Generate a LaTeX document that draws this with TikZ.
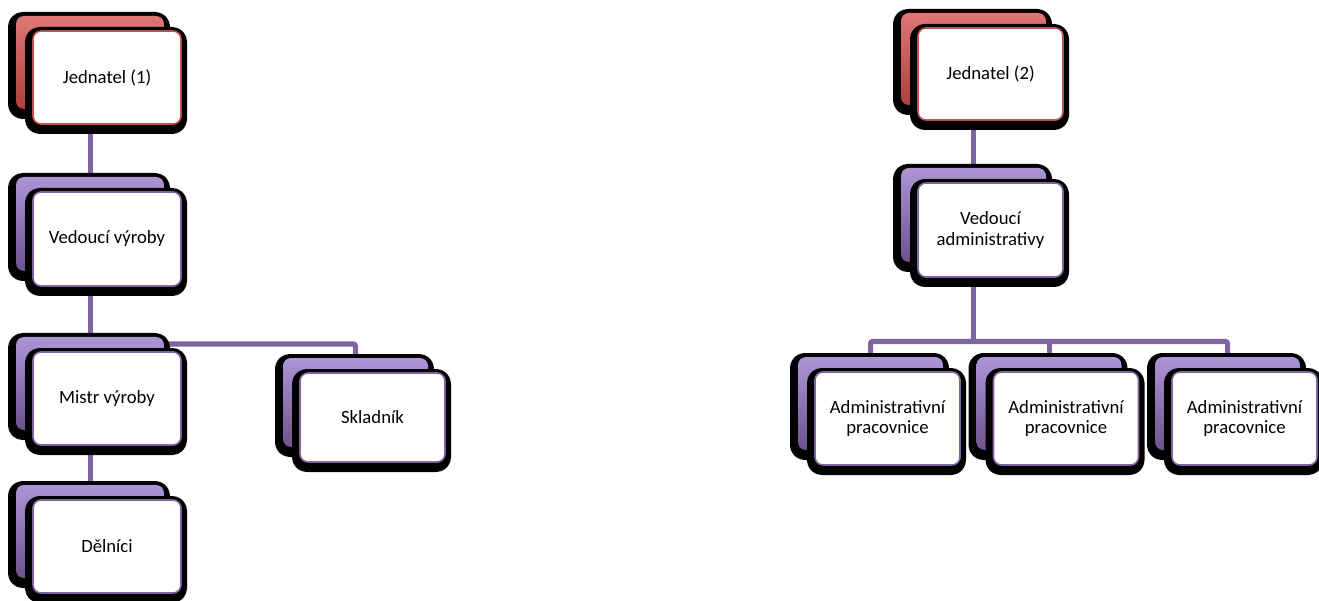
\documentclass[tikz,border=0pt]{standalone}
\usepackage{fontspec}
\setmainfont{Carlito}
\usetikzlibrary{backgrounds}
\definecolor{purpleM}{HTML}{8064A2}
\definecolor{purpleL}{HTML}{AD95D6}
\definecolor{purpleD}{HTML}{6E528F}
\definecolor{redM}{HTML}{C0504D}
\definecolor{redL}{HTML}{DE7774}
\definecolor{redD}{HTML}{AE403D}
\tikzset{
  boxbase/.style={rectangle, rounded corners=8pt, inner sep=0pt, align=center,
    font=\fontsize{18.7}{20.5}\selectfont},
  shadowed/.style={preaction={fill=black, draw=black, line width=14pt, line join=round,
    transform canvas={xshift=-1pt, yshift=-3pt}}},
  frontbox/.style={boxbase, shadowed, fill=white, draw=#1M, line width=1.6pt},
  backbox/.style={boxbase, shadowed, draw=none, top color=#1L, middle color=#1M, bottom color=#1D},
  conn/.style={draw=purpleM, line width=5pt, rounded corners=2pt},
}
\newcommand\orgunit[7]{%
  \node[backbox=#6, minimum width=#4pt, minimum height=#5pt] (#1b) at ({#2-17},{#3-15}) {};
  \node[frontbox=#6, minimum width=#4pt, minimum height=#5pt] (#1) at (#2,#3) {#7};
}
\begin{document}
\begin{tikzpicture}[x=1pt, y=-1pt]
\useasboundingbox (0,0) rectangle (1319,601);
% left chart
\orgunit{jA}{107}{77.5}{148}{93}{red}{Jednatel (1)}
\orgunit{vv}{107}{239}{148}{94}{purple}{Vedoucí výroby}
\orgunit{mv}{107}{398.5}{148}{93}{purple}{Mistr výroby}
\orgunit{dl}{107}{546.5}{148}{93}{purple}{Dělníci}
\orgunit{sk}{372.5}{417.5}{145}{89}{purple}{Skladník}
% right chart
\orgunit{jB}{990.5}{74}{145}{92}{red}{Jednatel (2)}
\orgunit{va}{990.5}{230}{145}{94}{purple}{Vedoucí\\administrativy}
\orgunit{aA}{887.5}{418.5}{145}{93}{purple}{Administrativní\\pracovnice}
\orgunit{aB}{1066}{418.5}{145}{93}{purple}{Administrativní\\pracovnice}
\orgunit{aC}{1244.5}{418.5}{145}{93}{purple}{Administrativní\\pracovnice}
\coordinate (hubL) at (0,344);
\coordinate (hubR) at (0,341.5);
\begin{pgfonlayer}{background}
\draw[conn] (jAb.center) -- (vvb.center);
\draw[conn] (vvb.center) -- (mvb.center);
\draw[conn] (mvb.center) -- (dlb.center);
\draw[conn] (mvb.center |- hubL) -| (skb.center);
\draw[conn] (jBb.center) -- (vab.center);
\draw[conn] (vab.center) -- (vab.center |- hubR);
\draw[conn] (aAb.center) |- (aCb.center |- hubR) -- (aCb.center);
\draw[conn] (aBb.center) -- (aBb.center |- hubR);
\end{pgfonlayer}
\end{tikzpicture}
\end{document}
